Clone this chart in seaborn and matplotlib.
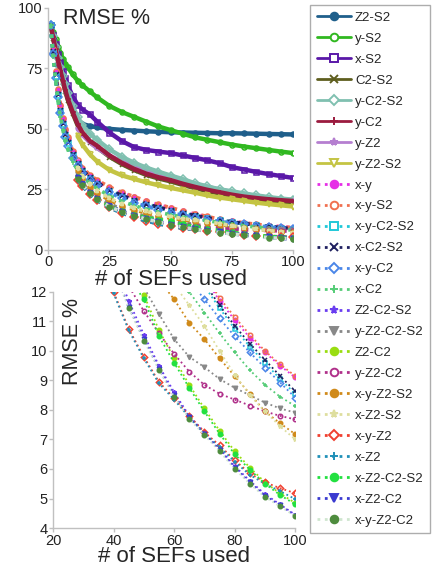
import numpy as np
import seaborn as sns
import matplotlib.pyplot as plt
from matplotlib.lines import Line2D

# x positions (number of SEFs)
sefs = [1, 2, 3, 4, 5, 6, 7, 8, 10, 12, 14, 17, 20, 25, 30, 35, 40, 45, 50, 55, 60, 65, 70, 75, 80, 85, 90, 95, 100]
sefs_z2 = [12, 14, 17, 20, 25, 30, 35, 40, 45, 50, 55, 60, 65, 70, 75, 80, 85, 90, 95, 100]

# ========== RMSE % per feature combination ==========
Z2_S2 = [53, 52, 51.2, 50.6, 50, 49.6, 49.3, 49, 48.8, 48.6, 48.5, 48.4, 48.3, 48.2, 48.2, 48.1, 48, 47.9, 47.8, 47.7]
y_S2 = [93, 90, 87, 84, 81.5, 79, 77, 75.5, 72.5, 70, 68, 65.5, 63, 59.5, 57, 55, 53, 51, 49.5, 48, 46.5, 45.5, 44.5, 43.5, 42.7, 42, 41.3, 40.6, 40]
x_S2 = [93, 89, 85, 81, 77.5, 74, 71, 68, 63.5, 60, 58, 56, 53, 48.5, 45, 42.5, 41.3, 40.6, 40, 39, 38, 37, 35.8, 34.2, 33.2, 32.2, 31.3, 30.5, 29.7]
C2_S2 = [93, 87.5, 82.5, 78, 73.5, 69.5, 65.5, 62, 56.5, 51.5, 48, 44.5, 42.3, 38.5, 35.5, 33, 31, 29.5, 28.3, 26.8, 25.5, 24.3, 23.3, 22.3, 21.5, 20.9, 20.4, 20, 19.7]
y_C2_S2 = [93, 88.5, 84, 79.5, 75.5, 72, 68.5, 65, 59.5, 55, 51.5, 48, 45.5, 41.5, 38.5, 36, 34, 32.3, 30.7, 29.2, 27.5, 26.2, 25, 24.2, 23.3, 22.5, 21.8, 21.2, 20.7]
y_C2 = [93, 88, 83, 78.5, 74, 70, 66, 62.5, 57, 52, 48.5, 45, 43, 39, 36, 33.5, 31.5, 30, 28.8, 27.3, 26, 24.8, 23.8, 22.8, 22, 21.4, 20.9, 20.5, 20.2]
y_Z2 = [50, 47.5, 44.5, 42, 39, 36.5, 34.5, 32.8, 31.3, 29.9, 28.5, 27.2, 26, 24.9, 23.9, 23, 22.2, 21.5, 21, 20.5]
y_Z2_S2 = [47, 43.5, 39.5, 36.5, 33, 30.8, 29.3, 27.9, 26.7, 25.6, 24.6, 23.6, 22.5, 21.6, 20.9, 20.2, 19.5, 18.9, 18.4, 17.9]
x_y = [93, 82.5, 73.5, 66, 59.5, 54, 49.5, 46, 40.5, 36.5, 33.5, 30.5, 28.3, 25.6, 23.4, 21.7, 20.1, 18.6, 17.2, 15.9, 14.7, 13.6, 12.5, 11.7, 11.05, 10.45, 9.95, 9.5, 9.1]
x_y_S2 = [93, 83, 74, 66.5, 60, 54.5, 50, 46.5, 41, 37, 34, 31, 28.8, 26, 23.8, 22, 20.3, 18.8, 17.4, 16.1, 14.9, 13.8, 12.6, 11.8, 11.15, 10.55, 10.0, 9.55, 9.15]
x_y_C2_S2 = [93, 81.5, 72, 64, 57.5, 52, 47.5, 44, 39, 35.3, 32.5, 29.5, 27.3, 24.3, 22, 20.2, 18.7, 17.3, 16.1, 15, 14, 13.1, 12.2, 11.45, 10.75, 10.15, 9.6, 9.05, 8.55]
x_C2_S2 = [93, 82, 72.5, 64.5, 58, 52.5, 48, 44.5, 39.5, 35.8, 33, 30, 27.8, 24.8, 22.5, 20.6, 19, 17.6, 16.3, 15.2, 14.2, 13.2, 12.3, 11.55, 10.85, 10.25, 9.7, 9.15, 8.64]
x_y_C2 = [93, 81, 71, 63, 56.5, 51, 46.5, 43, 38, 34.5, 31.8, 28.8, 26.6, 23.7, 21.3, 19.5, 18, 16.6, 15.4, 14.3, 13.3, 12.4, 11.75, 11.1, 10.5, 9.95, 9.43, 8.93, 8.42]
x_C2 = [93, 80, 70, 61.5, 55, 49.5, 45, 41.5, 36.5, 33, 30.3, 27.5, 25.3, 22.3, 20, 18.3, 16.8, 15.5, 14.5, 13.5, 12.7, 12.0, 11.3, 10.6, 9.95, 9.35, 8.85, 8.45, 8.13]
Z2_C2_S2 = [29.7, 27.2, 23.7, 21.2, 18.2, 16, 14.3, 13, 11.7, 10.55, 9.5, 8.6, 7.8, 7.25, 6.7, 6.1, 5.6, 5.15, 4.8, 4.45]
y_Z2_C2_S2 = [31, 28, 24.5, 22, 19, 16.8, 15, 13.8, 12.9, 12.15, 11.25, 10.4, 9.8, 9.45, 9.05, 8.75, 8.5, 8.25, 8.05, 7.91]
Z2_C2 = [30.5, 27.5, 24, 21.5, 18.4, 16.3, 14.8, 13.6, 12.7, 11.9, 10.7, 9.75, 8.85, 8.05, 7.3, 6.6, 6.05, 5.55, 5.17, 4.85]
y_Z2_C2 = [30, 27, 23.5, 21, 18, 15.8, 14.2, 13, 12.2, 11.35, 10.6, 9.9, 9.3, 8.85, 8.55, 8.35, 8.15, 7.95, 7.8, 7.68]
x_y_Z2_S2 = [33, 29.5, 26, 23.5, 20.5, 18.3, 16.6, 15.2, 14, 13.1, 12.4, 11.75, 10.95, 10.4, 9.75, 9.15, 8.55, 7.95, 7.55, 7.18]
x_Z2_S2 = [34, 30.5, 27, 24.5, 21.3, 19, 17.3, 15.9, 14.7, 13.7, 12.9, 12.25, 11.55, 10.85, 10.0, 9.2, 8.5, 7.95, 7.45, 7.0]
x_y_Z2 = [29, 26.5, 23, 20.5, 17.5, 15.3, 13.5, 12.0, 10.75, 9.8, 8.95, 8.4, 7.8, 7.25, 6.8, 6.3, 5.85, 5.55, 5.35, 5.18]
x_Z2 = [28.9, 26.4, 22.9, 20.4, 17.4, 15.2, 13.4, 11.95, 10.7, 9.75, 8.9, 8.35, 7.75, 7.2, 6.75, 6.25, 5.8, 5.5, 5.25, 4.98]
x_Z2_C2_S2 = [30, 27, 23.5, 21, 18, 16, 14.5, 13.3, 12.5, 11.75, 10.5, 9.6, 8.75, 7.95, 7.2, 6.5, 5.98, 5.5, 5.12, 4.8]
x_Z2_C2 = [29.5, 27, 23.5, 21, 18, 15.8, 14.1, 12.8, 11.5, 10.4, 9.4, 8.5, 7.75, 7.2, 6.65, 6.05, 5.55, 5.1, 4.77, 4.42]
x_y_Z2_C2 = [29.4, 26.9, 23.4, 20.9, 17.9, 15.7, 14.0, 12.75, 11.45, 10.35, 9.35, 8.45, 7.7, 7.15, 6.6, 6.0, 5.5, 5.05, 4.73, 4.4]

# name, x, y, color, marker, open marker, solid line
series = [
    ("Z2-S2", sefs_z2, Z2_S2, "#1f5f8b", "o", False, True),
    ("y-S2", sefs, y_S2, "#30b820", "o", True, True),
    ("x-S2", sefs, x_S2, "#5a18a8", "s", True, True),
    ("C2-S2", sefs, C2_S2, "#5e5e1e", "x", False, True),
    ("y-C2-S2", sefs, y_C2_S2, "#80c0b0", "D", True, True),
    ("y-C2", sefs, y_C2, "#9b1b3f", "+", False, True),
    ("y-Z2", sefs_z2, y_Z2, "#b57fd0", "*", False, True),
    ("y-Z2-S2", sefs_z2, y_Z2_S2, "#c4c443", "v", True, True),
    ("x-y", sefs, x_y, "#e62ee6", "o", False, False),
    ("x-y-S2", sefs, x_y_S2, "#f07050", "o", True, False),
    ("x-y-C2-S2", sefs, x_y_C2_S2, "#20c8d8", "s", True, False),
    ("x-C2-S2", sefs, x_C2_S2, "#1f2060", "x", False, False),
    ("x-y-C2", sefs, x_y_C2, "#4a86e8", "D", True, False),
    ("x-C2", sefs, x_C2, "#55cc77", "+", False, False),
    ("Z2-C2-S2", sefs_z2, Z2_C2_S2, "#6a3df0", "*", False, False),
    ("y-Z2-C2-S2", sefs_z2, y_Z2_C2_S2, "#888888", "v", False, False),
    ("Z2-C2", sefs_z2, Z2_C2, "#99dd11", "o", False, False),
    ("y-Z2-C2", sefs_z2, y_Z2_C2, "#b0308a", "o", True, False),
    ("x-y-Z2-S2", sefs_z2, x_y_Z2_S2, "#d08a1a", "o", False, False),
    ("x-Z2-S2", sefs_z2, x_Z2_S2, "#dede9e", "*", False, False),
    ("x-y-Z2", sefs_z2, x_y_Z2, "#f04030", "D", True, False),
    ("x-Z2", sefs_z2, x_Z2, "#2090b8", "+", False, False),
    ("x-Z2-C2-S2", sefs_z2, x_Z2_C2_S2, "#22e040", "o", False, False),
    ("x-Z2-C2", sefs_z2, x_Z2_C2, "#3a3ad0", "v", False, False),
    ("x-y-Z2-C2", sefs_z2, x_y_Z2_C2, "#4e8c3e", "o", False, False),
]
hidden = {"y-Z2", "C2-S2", "Z2-C2", "Z2-C2-S2"}

sns.set_theme(style="white")
plt.rcParams['font.family'] = ['Liberation Sans', 'DejaVu Sans']

fig = plt.figure(figsize=(4.38, 5.69), dpi=100)
ax1 = fig.add_axes([0.110, 0.561, 0.559, 0.425])
ax2 = fig.add_axes([0.121, 0.072, 0.553, 0.415])


def draw(ax, lw, ms, dotted_lw):
    for name, xs, ys, col, mk, hollow, solid in series:
        line_col = "#cfe6cf" if name == "x-y-Z2-C2" else col
        sns.lineplot(x=xs, y=ys, ax=ax, color=line_col, marker=mk,
                     linestyle="-" if solid else ":",
                     lw=lw if solid else dotted_lw, markersize=ms,
                     markerfacecolor="none" if hollow else col,
                     markeredgecolor=col, markeredgewidth=1.1,
                     zorder=1.5 if name in hidden else 2,
                     estimator=None, sort=False, errorbar=None, legend=False)


draw(ax1, 3.2, 3.6, 2.6)
draw(ax2, 1.2, 3.2, 1.3)

# ========== TOP PANEL ==========
ax1.set_xlim(0, 100)
ax1.set_ylim(0, 100)
ax1.set_xticks([0, 25, 50, 75, 100])
ax1.set_yticks([0, 25, 50, 75, 100])
ax1.set_xlabel("# of SEFs used", fontsize=16, labelpad=0)
ax1.set_ylabel("")
ax1.text(0.062, 1.0, "RMSE %", transform=ax1.transAxes, fontsize=15.5, va="top", ha="left")

# ========== BOTTOM PANEL ==========
ax2.set_xlim(20, 100)
ax2.set_ylim(4, 12)
ax2.set_xticks([20, 40, 60, 80, 100])
ax2.set_yticks(range(4, 13))
ax2.set_xlabel("# of SEFs used", fontsize=16, labelpad=-1)
ax2.set_ylabel("")
ax2.text(0.08, 0.79, "RMSE %", transform=ax2.transAxes, fontsize=15.5, rotation=90, va="center", ha="center")

for ax in (ax1, ax2):
    sns.despine(ax=ax)
    for s in ("left", "bottom"):
        ax.spines[s].set_color("#c0c0c0")
        ax.spines[s].set_linewidth(1)
    ax.tick_params(axis="both", which="both", direction="out", length=3, width=1,
                   color="#c0c0c0", labelsize=10.5, labelcolor="#222222", pad=1,
                   bottom=True, left=True)

# ========== LEGEND ==========
handles = []
labels = []
for name, xs, ys, col, mk, hollow, solid in series:
    line_col = "#cfe6cf" if name == "x-y-Z2-C2" else col
    handles.append(Line2D([], [], color=line_col, marker=mk,
                          linestyle="-" if solid else ":", lw=2,
                          markersize=5.5, markerfacecolor="white" if hollow else col,
                          markeredgecolor=col, markeredgewidth=1.4))
    labels.append(name)

leg = fig.legend(handles, labels, loc="upper left", bbox_to_anchor=(0.708, 0.991),
                 frameon=True, fancybox=False, fontsize=9.5, labelspacing=0.66,
                 handlelength=2.6, handletextpad=0.3, borderpad=0.5, borderaxespad=0)
leg.get_frame().set_edgecolor("#999999")
leg.get_frame().set_linewidth(1)

fig.savefig("out.png", dpi=100)
